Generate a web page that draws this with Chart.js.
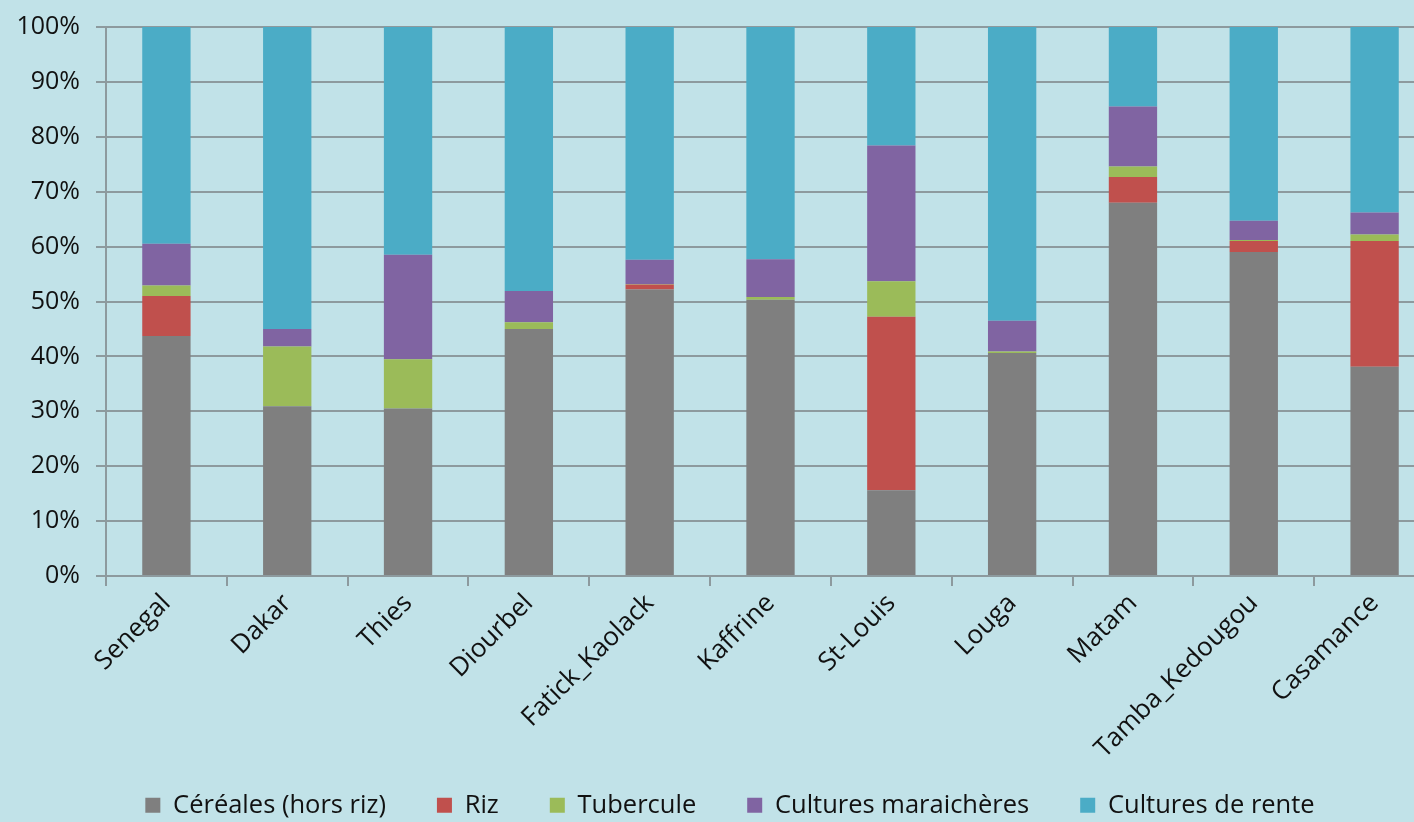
<!DOCTYPE html>
<html>
<head>
<meta charset="utf-8">
<script src="https://cdn.jsdelivr.net/npm/chart.js@4.4.1/dist/chart.umd.min.js"></script>
<style>
  html, body { margin: 0; padding: 0; background: #c1e2e8; overflow: hidden; }
  #frame { width: 1414px; height: 822px; overflow: hidden; position: relative; }
  #wrap { width: 1440px; height: 828px; position: absolute; left: 0; top: 0; }
</style>
</head>
<body>
<div id="frame"><div id="wrap"><canvas id="c" width="1440" height="828"></canvas></div></div>
<script>
// Regions and the share (%) of each crop group in cultivated area
const regions = ["Senegal", "Dakar", "Thies", "Diourbel", "Fatick_Kaolack", "Kaffrine",
                 "St-Louis", "Louga", "Matam", "Tamba_Kedougou", "Casamance"];
const cereales   = [43.7, 30.9, 30.5, 45.0, 52.2, 50.3, 15.6, 40.6, 68.0, 59.0, 38.1];
const riz        = [ 7.3,  0.0,  0.0,  0.0,  0.9,  0.0, 31.6,  0.0,  4.7,  2.0, 22.9];
const tubercule  = [ 1.9, 10.9,  9.0,  1.2,  0.1,  0.5,  6.5,  0.3,  1.9,  0.2,  1.2];
const maraich    = [ 7.6,  3.2, 19.0,  5.7,  4.4,  6.9, 24.7,  5.6, 10.9,  3.5,  4.0];
const rente      = [39.5, 55.0, 41.5, 48.1, 42.4, 42.3, 21.6, 53.5, 14.5, 35.3, 33.8];
const seriesNames = ["Céréales (hors riz)", "Riz", "Tubercule", "Cultures maraichères", "Cultures de rente"];
const yTicks = [0, 10, 20, 30, 40, 50, 60, 70, 80, 90, 100];

const colors = ["#7f7f7f", "#c0504d", "#9bbb59", "#8064a2", "#4bacc6"];
const values = [cereales, riz, tubercule, maraich, rente];

const bg = {
  id: "bg",
  beforeDraw(chart) {
    const ctx = chart.ctx;
    ctx.save();
    ctx.fillStyle = "#c1e2e8";
    ctx.fillRect(0, 0, chart.width, chart.height);
    ctx.restore();
  }
};

// Let the slanted category names run below the axis box, and centre the legend
const frameFix = {
  id: "frameFix",
  afterLayout(chart) {
    chart.scales.x.bottom = chart.height;
    chart.legend.left += 25;
  }
};

const gridCol = "#8d9a9e";
const fontFam = "'Open Sans', 'DejaVu Sans', sans-serif";
const plotBottom = 576;   // pixel row of the 0% line
const axisLeft = 106;     // pixel column of the value axis

new Chart(document.getElementById("c"), {
  type: "bar",
  data: {
    labels: regions,
    datasets: values.map((v, i) => ({
      label: seriesNames[i],
      data: v,
      backgroundColor: colors[i],
      borderWidth: 0,
      categoryPercentage: 1.0,
      barPercentage: 0.4
    }))
  },
  options: {
    responsive: false,
    animation: false,
    layout: { padding: { left: 0, right: 5, top: 27, bottom: 0 } },
    plugins: {
      tooltip: { enabled: false },
      legend: {
        position: "bottom",
        labels: {
          boxWidth: 15,
          boxHeight: 15,
          padding: 51,
          color: "#111111",
          font: { family: fontFam, size: 25.5 }
        }
      }
    },
    scales: {
      x: {
        stacked: true,
        afterFit(s) {
          const lh = s.chart.legend ? s.chart.legend.height : 0;
          s.height = s.chart.height - plotBottom - lh;
        },
        border: { color: gridCol, width: 2 },
        grid: {
          offset: true,
          drawOnChartArea: false,
          drawTicks: true,
          tickLength: 10,
          color: gridCol,
          lineWidth: 2
        },
        ticks: {
          minRotation: 45,
          maxRotation: 45,
          autoSkip: false,
          padding: 2,
          color: "#111111",
          font: { family: fontFam, size: 26 }
        }
      },
      y: {
        stacked: true,
        min: 0,
        max: 100,
        afterFit(s) {
          s.width = axisLeft;
          s.paddingTop = 0;
          s.paddingBottom = 0;
        },
        afterBuildTicks(axis) { axis.ticks = yTicks.map(v => ({ value: v })); },
        border: { color: gridCol, width: 2 },
        grid: { color: gridCol, lineWidth: 2, tickLength: 10 },
        ticks: {
          padding: 16,
          color: "#111111",
          font: { family: fontFam, size: 25 },
          callback: v => v + "%"
        }
      }
    }
  },
  plugins: [bg, frameFix]
});
</script>
</body>
</html>
